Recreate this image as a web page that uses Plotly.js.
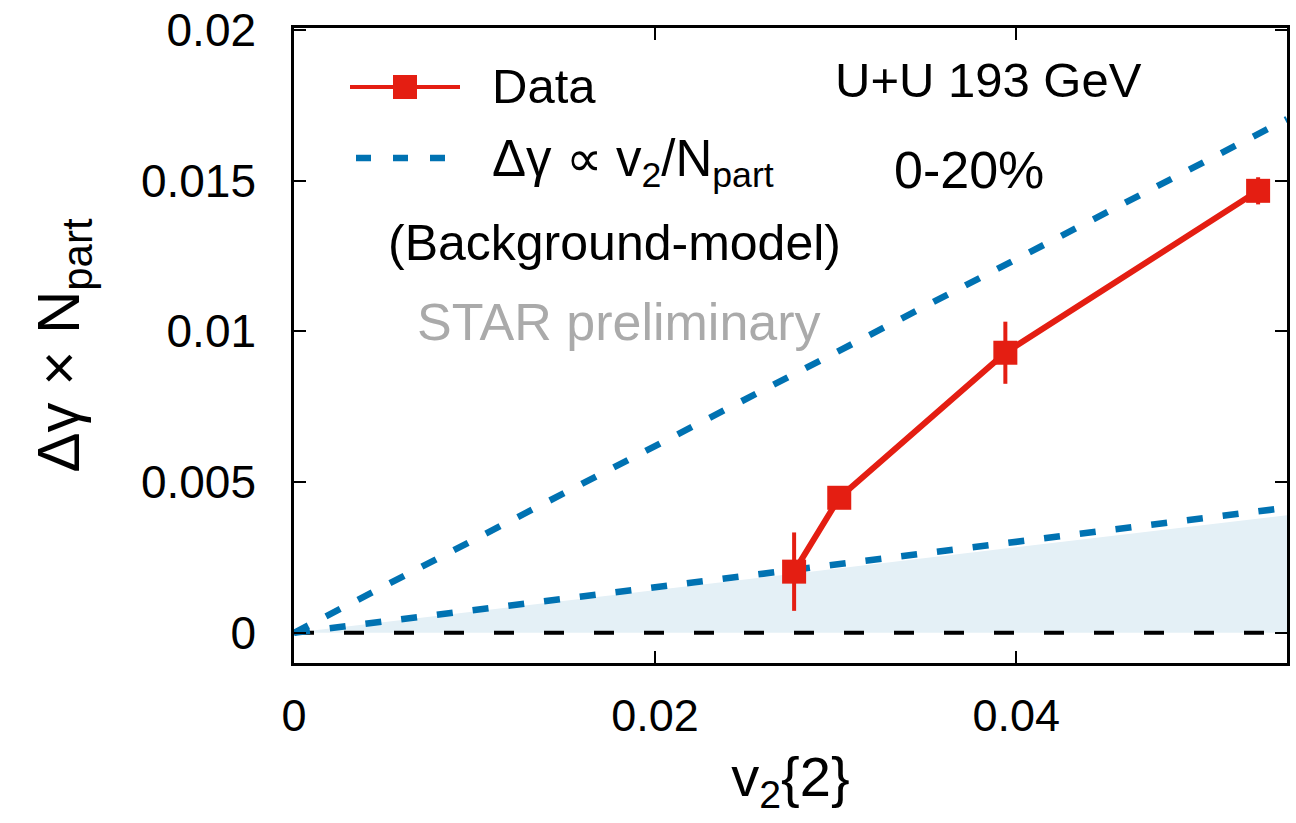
<!DOCTYPE html>
<html>
<head>
<meta charset="utf-8">
<script src="https://cdn.plot.ly/plotly-3.0.1.min.js"></script>
<style>html,body{margin:0;padding:0;background:#fff;}#chart{width:1296px;height:823px;}</style>
</head>
<body>
<div id="chart"></div>
<script>
// Measured data (U+U 193 GeV, 0-20%)
const v2 = [0.0277, 0.0302, 0.0394, 0.0534];
const dgNpart = [0.00203, 0.00448, 0.00929, 0.01466];
const dgErr = [0.0013, 0.0002, 0.00103, 0.00045];

// Background-model lines (Δγ ∝ v2/Npart)
const modelX = [0, 0.055];
const modelUpperY = [0, 0.01704];
const modelLowerY = [0, 0.00415];
const shadeY = [0, 0.0039];
const zeroX = [0, 0.055];
const zeroY = [0, 0];

const xTickVals = [0, 0.02, 0.04];
const xTickText = ['0', '0.02', '0.04'];
const yTickVals = [0, 0.005, 0.01, 0.015, 0.02];
const yTickText = ['0', '0.005', '0.01', '0.015', '0.02'];

const RED = 'rgb(228,30,18)';
const BLUE = 'rgb(0,114,178)';
const FONT = 'Liberation Sans, Arial, sans-serif';

const traces = [
  {x: modelX, y: shadeY, mode: 'lines', fill: 'tozeroy', fillcolor: 'rgb(228,240,246)',
   line: {width: 0, color: 'rgba(0,0,0,0)'}, showlegend: false, hoverinfo: 'skip'},
  {x: zeroX, y: zeroY, mode: 'lines', line: {color: 'black', width: 4, dash: '20px,30px'},
   showlegend: false},
  {x: modelX, y: modelUpperY, mode: 'lines', line: {color: BLUE, width: 6.5, dash: '16px,20px'},
   showlegend: false},
  {x: modelX, y: modelLowerY, mode: 'lines', line: {color: BLUE, width: 6.5, dash: '16px,20px'},
   showlegend: false},
  {x: v2, y: dgNpart, mode: 'lines+markers', name: 'Data',
   line: {color: RED, width: 6},
   marker: {symbol: 'square', size: 24, color: RED},
   error_y: {type: 'data', array: dgErr, visible: true, color: RED, thickness: 4, width: 0},
   showlegend: false}
];

function px2paperX(p) { return (p - 294) / 993; }
function px2paperY(p) { return (663 - p) / 635; }

const layout = {
  width: 1296, height: 823,
  margin: {l: 294, r: 9, t: 28, b: 160},
  paper_bgcolor: 'white', plot_bgcolor: 'white',
  font: {family: FONT, color: 'black', size: 44},
  showlegend: false,
  xaxis: {
    range: [0, 0.055], tickmode: 'array', tickvals: xTickVals, ticktext: xTickText,
    ticks: 'inside', ticklen: 12, tickwidth: 2, tickcolor: 'black',
    showline: true, linewidth: 2.5, linecolor: 'black', mirror: 'ticks',
    showgrid: false, zeroline: false,
    tickfont: {size: 45, family: FONT},
    ticklabelstandoff: 11,
    title: {text: 'v<sub>2</sub>{2}', font: {size: 56, family: FONT}, standoff: 18},
    automargin: false
  },
  yaxis: {
    range: [-0.001, 0.02006], tickmode: 'array', tickvals: yTickVals, ticktext: yTickText,
    ticks: 'inside', ticklen: 12, tickwidth: 2, tickcolor: 'black',
    showline: true, linewidth: 2.5, linecolor: 'black', mirror: 'ticks',
    showgrid: false, zeroline: false,
    tickfont: {size: 46, family: FONT},
    ticklabelstandoff: 26,
    title: {text: 'Δγ × N<sub>part</sub>', font: {size: 60, family: FONT}, standoff: 42},
    automargin: false
  },
  shapes: [
    {type: 'line', xref: 'paper', yref: 'paper', x0: px2paperX(350), x1: px2paperX(460),
     y0: px2paperY(87), y1: px2paperY(87), line: {color: RED, width: 4}},
    {type: 'rect', xref: 'paper', yref: 'paper', x0: px2paperX(393), x1: px2paperX(417),
     y0: px2paperY(99), y1: px2paperY(75), fillcolor: RED, line: {width: 0}},
    {type: 'line', xref: 'paper', yref: 'paper', x0: px2paperX(356), x1: px2paperX(448),
     y0: px2paperY(158), y1: px2paperY(158), line: {color: BLUE, width: 6.5, dash: '15px,22px'}}
  ],
  annotations: [
    {xref: 'paper', yref: 'paper', x: px2paperX(490), y: px2paperY(86), xanchor: 'left', yanchor: 'middle',
     text: 'Data', showarrow: false, font: {size: 49, family: FONT}},
    {xref: 'paper', yref: 'paper', x: px2paperX(490), y: px2paperY(162), xanchor: 'left', yanchor: 'middle',
     text: 'Δγ ∝ v<sub>2</sub>/N<sub>part</sub>', showarrow: false, font: {size: 51, family: FONT}},
    {xref: 'paper', yref: 'paper', x: px2paperX(614), y: px2paperY(243), xanchor: 'center', yanchor: 'middle',
     text: '(Background-model)', showarrow: false, font: {size: 50, family: FONT}},
    {xref: 'paper', yref: 'paper', x: px2paperX(619), y: px2paperY(322), xanchor: 'center', yanchor: 'middle',
     text: 'STAR preliminary', showarrow: false, font: {size: 52, family: FONT, color: 'rgb(170,170,170)'}},
    {xref: 'paper', yref: 'paper', x: px2paperX(988), y: px2paperY(80), xanchor: 'center', yanchor: 'middle',
     text: 'U+U 193 GeV', showarrow: false, font: {size: 49, family: FONT}},
    {xref: 'paper', yref: 'paper', x: px2paperX(969), y: px2paperY(170), xanchor: 'center', yanchor: 'middle',
     text: '0-20%', showarrow: false, font: {size: 52, family: FONT}}
  ]
};

Plotly.newPlot('chart', traces, layout, {displayModeBar: false});
</script>
</body>
</html>
